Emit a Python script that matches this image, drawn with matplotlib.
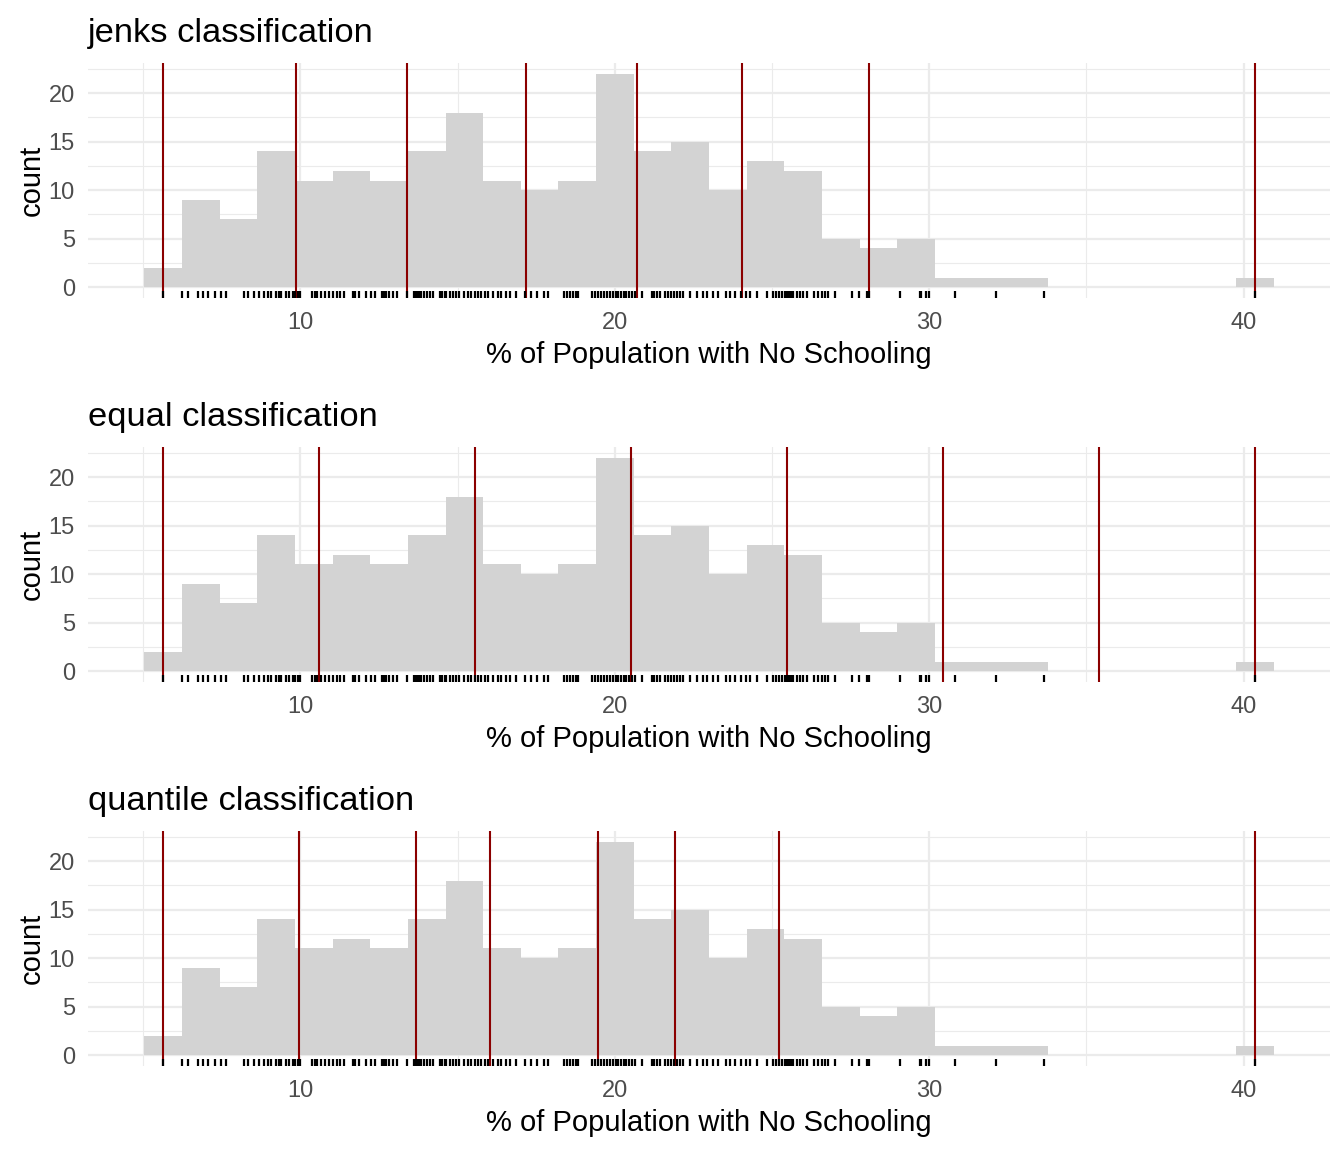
import numpy as np
import matplotlib
matplotlib.use("Agg")
import matplotlib.pyplot as plt
from matplotlib.ticker import MultipleLocator

plt.rcParams['font.family'] = ['Liberation Sans', 'DejaVu Sans']

# ---- data ----
data_min = 5.64
data_max = 40.35
counts = [2, 9, 7, 14, 11, 12, 11, 14, 18, 11, 10, 11, 22, 14, 15, 10, 13, 12,
          5, 4, 5, 1, 1, 1, 0, 0, 0, 0, 0, 1]

rug_values = [5.64, 6.22, 6.43, 6.75, 6.89, 7.07, 7.28, 7.47, 7.63, 8.22, 8.34, 8.54,
              8.69, 8.83, 8.98, 9.08, 9.24, 9.33, 9.39, 9.55, 9.65, 9.75, 9.84, 9.94,
              10.00, 10.38, 10.48, 10.54, 10.66, 10.79, 10.90, 11.03, 11.16, 11.26,
              11.40, 11.66, 11.75, 11.86, 12.09, 12.25, 12.36, 12.58, 12.66, 12.73,
              12.83, 12.94, 13.07, 13.39, 13.60, 13.69, 13.74, 13.79, 13.85, 13.93,
              14.02, 14.11, 14.21, 14.43, 14.51, 14.59, 14.64, 14.75, 14.84, 14.96,
              15.06, 15.20, 15.33, 15.44, 15.54, 15.64, 15.73, 15.86, 15.96, 16.12,
              16.28, 16.39, 16.53, 16.68, 16.87, 17.13, 17.35, 17.51, 17.74, 17.88,
              18.38, 18.47, 18.57, 18.66, 18.76, 18.82, 19.27, 19.36, 19.46, 19.55,
              19.65, 19.75, 19.84, 19.94, 20.03, 20.10, 20.21, 20.29, 20.37, 20.45,
              20.56, 20.64, 20.85, 21.17, 21.24, 21.34, 21.43, 21.59, 21.69, 21.78,
              21.88, 21.97, 22.07, 22.18, 22.39, 22.62, 22.81, 22.94, 23.11, 23.29,
              23.54, 23.66, 23.82, 24.00, 24.17, 24.30, 24.51, 24.83, 25.03, 25.13,
              25.22, 25.32, 25.41, 25.47, 25.53, 25.60, 25.68, 25.79, 25.89, 26.00,
              26.11, 26.32, 26.47, 26.58, 26.69, 26.79, 27.01, 27.54, 27.75, 28.03,
              28.09, 29.08, 29.69, 29.74, 29.90, 30.00, 30.83, 32.13, 33.66, 40.35]

titles = ["jenks classification", "equal classification", "quantile classification"]
breaks = [
    [5.64, 9.87, 13.38, 17.17, 20.70, 24.04, 28.09, 40.35],
    [5.64, 10.60, 15.55, 20.51, 25.47, 30.43, 35.39, 40.35],
    [5.64, 9.97, 13.69, 16.02, 19.46, 21.91, 25.22, 40.35],
]
x_label = "% of Population with No Schooling"
y_label = "count"

# ---- layout ----
W, H = 1344, 1152
fig = plt.figure(figsize=(W / 100, H / 100), dpi=100)

nbins = len(counts)
bw = (data_max - data_min) / (nbins - 1)
edges = data_min - bw / 2 + bw * np.arange(nbins + 1)
lo, hi = edges[0], edges[-1]
pad_x = (hi - lo) * 0.05
ymax = max(counts)

panel_tops = [63, 447, 831]
panel_h = 235
left_px, right_px = 88, 1330

for i, (title, brk) in enumerate(zip(titles, breaks)):
    top = panel_tops[i]
    ax = fig.add_axes([left_px / W, 1 - (top + panel_h) / H,
                       (right_px - left_px) / W, panel_h / H])
    ax.bar(edges[:-1], counts, width=bw, align='edge', color='#D3D3D3',
           linewidth=0, zorder=2)
    for b in brk:
        ax.axvline(b, color='#8B0000', lw=1.5, zorder=3)
    ax.vlines(rug_values, 0, 0.03, transform=ax.get_xaxis_transform(),
              color='black', lw=1.6, zorder=4)

    ax.set_xlim(lo - pad_x, hi + pad_x)
    ax.set_ylim(-0.05 * ymax, ymax * 1.05)
    ax.xaxis.set_major_locator(MultipleLocator(10))
    ax.xaxis.set_minor_locator(MultipleLocator(5))
    ax.yaxis.set_major_locator(MultipleLocator(5))
    ax.yaxis.set_minor_locator(MultipleLocator(2.5))
    ax.grid(which='major', color='#EBEBEB', lw=1.6, zorder=0)
    ax.grid(which='minor', color='#EBEBEB', lw=0.8, zorder=0)
    ax.set_axisbelow(True)
    for s in ax.spines.values():
        s.set_visible(False)
    ax.tick_params(which='both', length=0)
    ax.tick_params(axis='x', labelsize=17, labelcolor='#4D4D4D', pad=10.2)
    ax.tick_params(axis='y', labelsize=17, labelcolor='#4D4D4D', pad=9.4)

    ax.set_title(title, loc='left', fontsize=24.8, color='black', pad=15)
    ax.set_xlabel(x_label, fontsize=21, color='black')
    ax.xaxis.set_label_coords(0.5, -0.185)
    ax.set_ylabel(y_label, fontsize=21, color='black')
    ax.yaxis.set_label_coords(-0.034, 0.5)

fig.savefig("out.png", dpi=100, facecolor='white')
